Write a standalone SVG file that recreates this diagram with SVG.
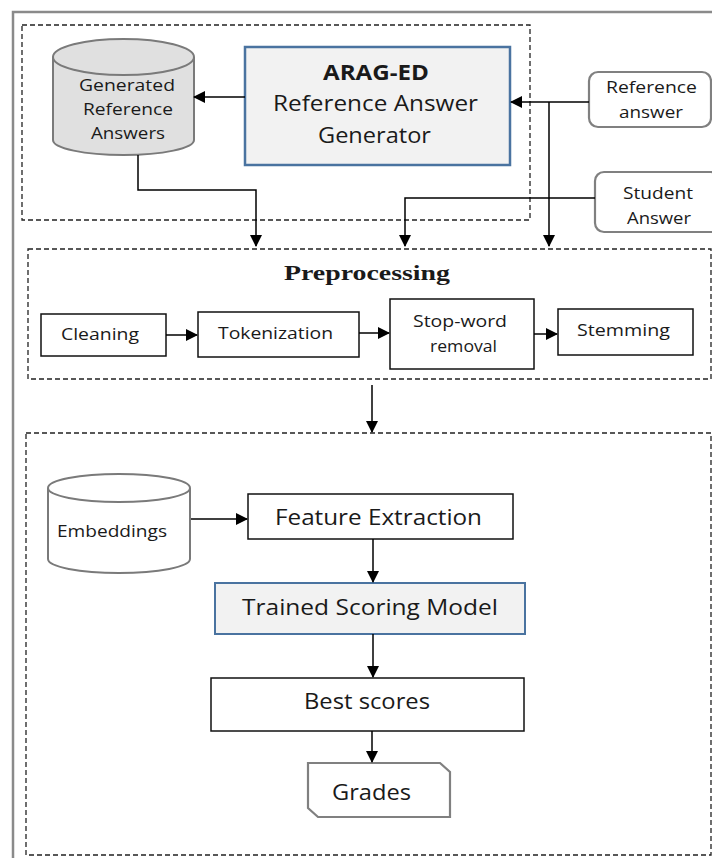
<svg xmlns="http://www.w3.org/2000/svg" width="712" height="858" viewBox="0 0 712 858">
  <defs>
    <marker id="arrow" markerWidth="12" markerHeight="12" refX="11" refY="6" orient="auto" markerUnits="userSpaceOnUse">
      <path d="M0,0 L12,6 L0,12 Z" fill="#000"/>
    </marker>
    <style>
      .frame { fill: none; stroke: #8a8a8a; stroke-width: 2.5; }
      .group { fill: none; stroke: #222; stroke-width: 1.3; stroke-dasharray: 5 3; }
      .box { fill: #fff; stroke: #111; stroke-width: 1.5; }
      .core { fill: #f2f2f2; stroke: #4a73a0; stroke-width: 2.5; }
      .io { fill: #fff; stroke: #808080; stroke-width: 2.2; }
      .db { stroke: #7a7a7a; stroke-width: 2; }
      .link { fill: none; stroke: #000; stroke-width: 1.5; marker-end: url(#arrow); }
      .t { font-family: "Open Sans", "Liberation Sans", sans-serif; fill: #1a1a1a; }
      .s { font-size: 17px; }
      .m { font-size: 21.5px; }
      .b { font-weight: bold; }
      .head { font-family: "Liberation Serif", serif; font-weight: bold; font-size: 22px; fill: #1a1a1a; }
    </style>
  </defs>

  <rect width="712" height="858" fill="#fff"/>
  <!-- page frame -->
  <rect class="frame" x="13" y="12" width="702" height="860"/>

  <!-- group outlines -->
  <g id="groups">
    <rect class="group" x="22" y="25" width="508" height="195"/>
    <rect class="group" x="28" y="249" width="683" height="130"/>
    <rect class="group" x="26" y="433" width="685" height="422"/>
  </g>

  <!-- generated reference answers store -->
  <g id="generated-answers">
    <path class="db" fill="#e0e0e0" d="M53,57 L53,140 A70.5,15 0 0 0 194,140 L194,57"/>
    <ellipse class="db" fill="#e0e0e0" cx="123.5" cy="57" rx="70.5" ry="18"/>
    <text class="t s" x="79" y="91" textLength="96" lengthAdjust="spacingAndGlyphs">Generated</text>
    <text class="t s" x="83" y="115" textLength="90" lengthAdjust="spacingAndGlyphs">Reference</text>
    <text class="t s" x="91" y="139" textLength="74" lengthAdjust="spacingAndGlyphs">Answers</text>
  </g>

  <!-- ARAG-ED generator -->
  <g id="arag-ed">
    <rect class="core" x="245" y="47" width="265" height="118"/>
    <text class="t m b" x="323" y="80" textLength="106" lengthAdjust="spacingAndGlyphs">ARAG-ED</text>
    <text class="t m" x="273" y="111" textLength="205" lengthAdjust="spacingAndGlyphs">Reference Answer</text>
    <text class="t m" x="318" y="143" textLength="113" lengthAdjust="spacingAndGlyphs">Generator</text>
  </g>

  <!-- inputs -->
  <g id="reference-answer">
    <rect class="io" x="589" y="72" width="122" height="55" rx="9"/>
    <text class="t s" x="606" y="93" textLength="91" lengthAdjust="spacingAndGlyphs">Reference</text>
    <text class="t s" x="619" y="118" textLength="64" lengthAdjust="spacingAndGlyphs">answer</text>
  </g>
  <g id="student-answer">
    <rect class="io" x="595" y="172" width="125" height="60" rx="9"/>
    <text class="t s" x="623" y="199" textLength="70" lengthAdjust="spacingAndGlyphs">Student</text>
    <text class="t s" x="627" y="224" textLength="64" lengthAdjust="spacingAndGlyphs">Answer</text>
  </g>

  <!-- preprocessing -->
  <g id="preprocessing-title">
    <text class="head" x="284" y="280" textLength="166" lengthAdjust="spacingAndGlyphs">Preprocessing</text>
  </g>
  <g id="cleaning">
    <rect class="box" x="41" y="314" width="125" height="42"/>
    <text class="t s" x="61" y="340" textLength="78" lengthAdjust="spacingAndGlyphs">Cleaning</text>
  </g>
  <g id="tokenization">
    <rect class="box" x="198" y="312" width="161" height="45"/>
    <text class="t s" x="218" y="339" textLength="115" lengthAdjust="spacingAndGlyphs">Tokenization</text>
  </g>
  <g id="stop-word-removal">
    <rect class="box" x="390" y="299" width="144" height="70"/>
    <text class="t s" x="413" y="327" textLength="94" lengthAdjust="spacingAndGlyphs">Stop-word</text>
    <text class="t s" x="430" y="352" textLength="67" lengthAdjust="spacingAndGlyphs">removal</text>
  </g>
  <g id="stemming">
    <rect class="box" x="558" y="309" width="135" height="46"/>
    <text class="t s" x="577" y="336" textLength="93" lengthAdjust="spacingAndGlyphs">Stemming</text>
  </g>

  <!-- scoring -->
  <g id="embeddings">
    <path class="db" fill="#fff" d="M48,488 L48,559 A71,14 0 0 0 190,559 L190,488"/>
    <ellipse class="db" fill="#fff" cx="119" cy="488" rx="71" ry="14"/>
    <text class="t s" x="57" y="537" textLength="110" lengthAdjust="spacingAndGlyphs">Embeddings</text>
  </g>
  <g id="feature-extraction">
    <rect class="box" x="248" y="494" width="265" height="45"/>
    <text class="t m" x="275" y="525" textLength="207" lengthAdjust="spacingAndGlyphs">Feature Extraction</text>
  </g>
  <g id="trained-scoring-model">
    <rect class="core" x="215" y="583" width="310" height="51" style="stroke-width:2"/>
    <text class="t m" x="242" y="615" textLength="256" lengthAdjust="spacingAndGlyphs">Trained Scoring Model</text>
  </g>
  <g id="best-scores">
    <rect class="box" x="211" y="678" width="313" height="53"/>
    <text class="t m" x="304" y="709" textLength="126" lengthAdjust="spacingAndGlyphs">Best scores</text>
  </g>
  <g id="grades">
    <path class="io" d="M308,763 L440,763 L450,772 L450,817 L318,817 L308,808 Z"/>
    <text class="t m" x="332" y="800" textLength="79" lengthAdjust="spacingAndGlyphs">Grades</text>
  </g>

  <!-- connectors -->
  <g id="connectors">
    <path class="link" d="M245,97 L194,97"/>
    <path class="link" d="M589,102 L511,102"/>
    <path class="link" d="M549,102 L549,246"/>
    <path class="link" d="M595,198 L405,198 L405,246"/>
    <path class="link" d="M138,155 L138,190 L256,190 L256,246"/>
    <path class="link" d="M166,335 L197,335"/>
    <path class="link" d="M359,333 L389,333"/>
    <path class="link" d="M534,334 L557,334"/>
    <path class="link" d="M372,385 L372,432"/>
    <path class="link" d="M191,519 L247,519"/>
    <path class="link" d="M373,539 L373,582"/>
    <path class="link" d="M373,634 L373,677"/>
    <path class="link" d="M372,731 L372,762"/>
  </g>
</svg>
